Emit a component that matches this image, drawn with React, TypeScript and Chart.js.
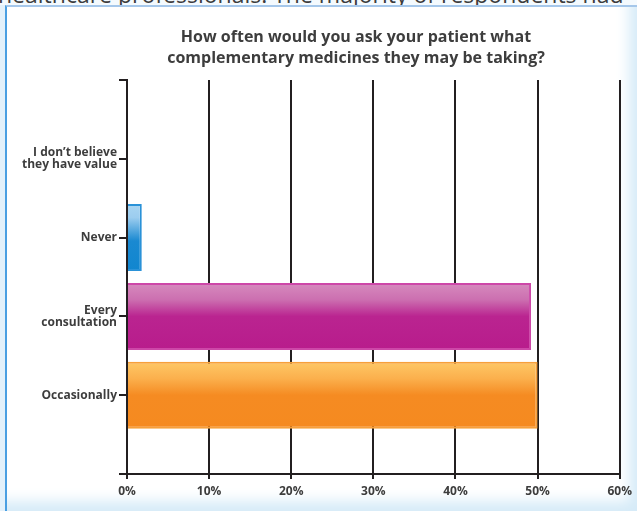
import React, { useEffect, useRef } from "react";
import { Chart, registerables } from "chart.js";

Chart.register(...registerables);

// ---- data ----
const titleLines = [
  "How often would you ask your patient what",
  "complementary medicines they may be taking?",
];
const categoryLines: string[][] = [
  ["I don\u2019t believe", "they have value"],
  ["Never"],
  ["Every", "consultation"],
  ["Occasionally"],
];
const percentValues = [0, 1.8, 49.2, 50];
const xTickValues = [0, 10, 20, 30, 40, 50, 60];
const barGradients: [number, string][][] = [
  [[0, "#a9d5f2"], [0.55, "#1a89d1"], [1, "#1186cf"]],
  [[0, "#a9d5f2"], [0.2, "#9ccdef"], [0.55, "#1a89d1"], [1, "#1186cf"]],
  [[0, "#d68bbe"], [0.25, "#cc6fb0"], [0.5, "#ba2490"], [1, "#b81c8c"]],
  [[0, "#fec866"], [0.25, "#fbb04d"], [0.5, "#f58b22"], [1, "#f58a20"]],
];
const barBorders = ["#2a92d8", "#2a92d8", "#cd47a8", "#f7a03a"];
const surroundText = "healthcare professionals. The majority of respondents had";

const BAR_PCT = 0.85;
const INK = "#231f20";
const TEXT = "#3d3d3d";
const FONT = "'Open Sans', sans-serif";
const TITLE_CENTER_X = 356;

const titleShift = {
  id: "titleShift",
  afterLayout(chart: any) {
    const t = chart.titleBlock;
    if (!t) return;
    const w = t.right - t.left;
    t.left = TITLE_CENTER_X - w / 2;
    t.right = TITLE_CENTER_X + w / 2;
  },
};

export default function App() {
  const canvasRef = useRef<HTMLCanvasElement | null>(null);

  useEffect(() => {
    if (!canvasRef.current) return;
    const labels: (string | string[])[] = ["", ...categoryLines, ""];
    const data: (number | null)[] = [null, ...percentValues, null];

    const chart = new Chart(canvasRef.current, {
      type: "bar",
      data: {
        labels,
        datasets: [
          {
            data,
            categoryPercentage: 1,
            barPercentage: BAR_PCT,
            borderWidth: 2,
            borderSkipped: "start",
            borderColor: (ctx: any) => barBorders[ctx.dataIndex - 1] || "transparent",
            backgroundColor: (ctx: any) => {
              const stops = barGradients[ctx.dataIndex - 1];
              if (!stops) return "transparent";
              const chart = ctx.chart;
              const y = chart.scales && chart.scales.y;
              if (!y || !chart.chartArea) return stops[stops.length - 1][1];
              const c = y.getPixelForValue(ctx.dataIndex);
              const step = Math.abs(y.getPixelForValue(1) - y.getPixelForValue(0));
              const half = (step * BAR_PCT) / 2;
              if (!isFinite(c) || !isFinite(half) || half <= 0) return stops[stops.length - 1][1];
              const g = chart.ctx.createLinearGradient(0, c - half, 0, c + half);
              stops.forEach(([o, col]) => g.addColorStop(o, col));
              return g;
            },
          },
        ],
      },
      options: {
        indexAxis: "y",
        animation: false,
        responsive: false,
        maintainAspectRatio: false,
        layout: { padding: { left: 10, right: 17, top: 26.5, bottom: 7 } },
        plugins: {
          legend: { display: false },
          tooltip: { enabled: false },
          title: {
            display: true,
            text: titleLines,
            color: TEXT,
            font: { family: FONT, size: 16, weight: "bold", lineHeight: 21 / 16 },
            padding: { top: 0, bottom: 11.5 },
          },
        },
        scales: {
          x: {
            type: "linear",
            min: 0,
            max: 60,
            afterBuildTicks: (scale: any) => {
              scale.ticks = xTickValues.map((v) => ({ value: v }));
            },
            afterFit: (scale: any) => {
              scale.height = 30;
            },
            ticks: {
              color: TEXT,
              padding: 5,
              font: { family: FONT, size: 12, weight: "bold" },
              callback: (v: any) => `${v}%`,
              maxRotation: 0,
            },
            grid: { color: INK, lineWidth: 2, drawTicks: true, tickLength: 5, drawOnChartArea: true },
            border: { display: true, color: INK, width: 2 },
          },
          y: {
            type: "category",
            offset: false,
            afterFit: (scale: any) => {
              scale.width = 127 - 10;
            },
            ticks: {
              color: TEXT,
              padding: 2,
              autoSkip: false,
              font: { family: FONT, size: 12, weight: "bold", lineHeight: 12.5 / 12 },
            },
            grid: { offset: false, color: INK, lineWidth: 2, drawTicks: true, tickLength: 8, drawOnChartArea: false },
            border: { display: true, color: INK, width: 2 },
          },
        },
      } as any,
      plugins: [titleShift],
    });
    return () => chart.destroy();
  }, []);

  return (
    <div
      style={{
        position: "fixed",
        left: 0,
        top: 0,
        width: 637,
        height: 511,
        overflow: "hidden",
        background: "#f4fafe",
      }}
    >
      <div
        style={{
          position: "absolute",
          left: -2,
          top: -17,
          whiteSpace: "nowrap",
          fontFamily: FONT,
          fontWeight: 400,
          fontSize: 23,
          lineHeight: "23px",
          color: "#3c3c3c",
        }}
      >
        {surroundText}
      </div>
      <div style={{ position: "absolute", left: 0, top: 5, width: 5, height: 506, background: "#e3f1fb" }} />
      <div
        style={{
          position: "absolute",
          left: 5,
          top: 5,
          width: 632,
          height: 506,
          boxSizing: "border-box",
          borderLeft: "2px solid #4a9fe2",
          borderTop: "2px solid #a5c7ea",
          background: "#ffffff",
          boxShadow: "inset -14px -16px 14px -6px #d6ebf8",
        }}
      />
      <canvas
        ref={canvasRef}
        width={637}
        height={511}
        style={{ position: "absolute", left: 0, top: 0, width: 637, height: 511 }}
      />
    </div>
  );
}
